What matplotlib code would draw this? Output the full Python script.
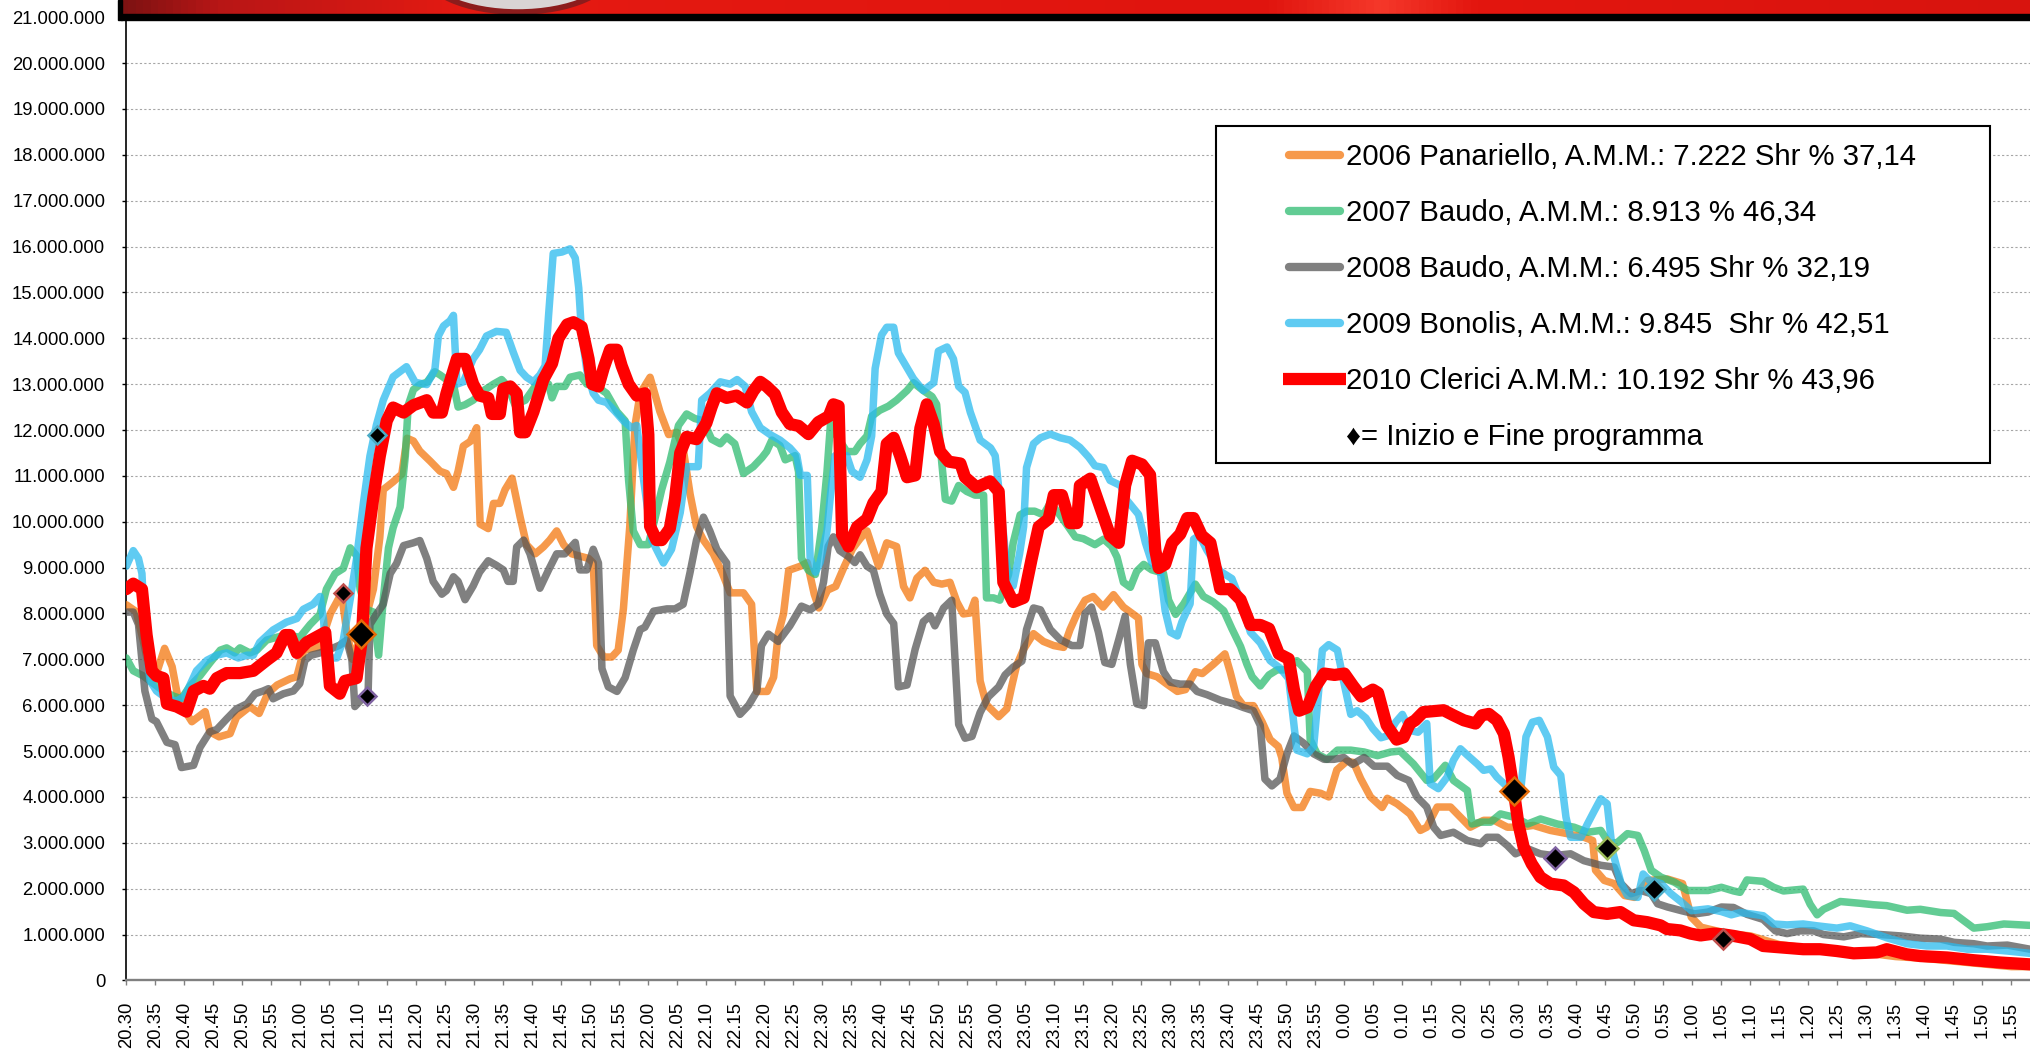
import matplotlib
matplotlib.use("Agg")
import matplotlib.pyplot as plt
import numpy as np
from matplotlib.patches import Rectangle, Ellipse
from matplotlib.colors import LinearSegmentedColormap
from matplotlib.ticker import FuncFormatter, MultipleLocator

plt.rcParams['font.family'] = ['Liberation Sans', 'DejaVu Sans']

# (minutes after 20:30, viewers in millions)
s2006 = [(0, 8.19), (1.7, 8.04), (2.9, 7.42), (4.0, 6.77), (5.2, 6.69), (6.6, 7.24), (7.9, 6.84),
         (9.0, 6.1), (11.3, 5.64), (13.6, 5.86), (14.4, 5.42), (16.0, 5.31), (17.9, 5.38), (19.0, 5.74),
         (21.3, 5.97), (22.9, 5.82), (24.4, 6.26), (26.0, 6.44), (28.3, 6.58), (29.4, 6.62), (30.6, 7.2),
         (32.1, 7.24), (33.3, 7.27), (35.2, 8.0), (37.1, 8.44), (38.0, 7.6), (39.0, 7.0), (40.4, 7.5),
         (41.5, 8.0), (42.6, 8.53), (43.7, 9.65), (44.3, 10.7), (46.0, 10.87), (47.5, 11.04), (48.4, 11.82),
         (49.5, 11.76), (50.6, 11.54), (52.4, 11.32), (54.1, 11.1), (55.2, 11.05), (56.4, 10.75), (57.2, 11.1),
         (58.1, 11.65), (59.3, 11.75), (60.4, 12.05), (61.0, 9.95), (62.4, 9.85), (63.3, 10.4), (64.4, 10.4),
         (65.3, 10.7), (66.5, 10.95), (67.9, 10.1), (69.0, 9.5), (70.5, 9.3), (71.9, 9.45), (73.0, 9.6),
         (74.2, 9.8), (75.4, 9.5), (76.8, 9.3), (78.2, 9.25), (79.7, 9.2), (80.5, 9.1), (81.1, 7.3),
         (82.3, 7.05), (83.7, 7.05), (84.8, 7.2), (85.7, 8.1), (86.8, 9.9), (87.7, 12.1), (88.6, 12.8),
         (90.3, 13.15), (92.0, 12.4), (93.5, 11.9), (94.9, 11.95), (96.0, 11.6), (97.2, 10.6), (98.3, 9.9),
         (99.5, 9.6), (101.2, 9.3), (102.7, 8.9), (104.1, 8.45), (106.4, 8.45), (107.8, 8.2), (108.7, 6.3),
         (110.5, 6.3), (111.6, 6.61), (112.4, 7.56), (113.3, 7.99), (114.2, 8.94), (116.2, 9.03), (117.4, 9.11),
         (118.6, 8.42), (119.4, 8.12), (120.9, 8.51), (122.3, 8.59), (123.8, 9.03), (125.2, 9.41), (126.5, 9.63),
         (127.7, 9.8), (128.8, 9.37), (129.7, 9.03), (131.1, 9.54), (132.8, 9.46), (134.0, 8.59), (135.1, 8.34),
         (136.3, 8.77), (137.7, 8.94), (139.2, 8.68), (140.6, 8.64), (142.0, 8.68), (143.2, 8.25), (144.3, 7.99),
         (145.5, 8.01), (146.3, 8.29), (147.2, 6.53), (148.3, 6.01), (150.4, 5.75), (151.8, 5.92), (152.7, 6.44),
         (153.5, 6.87), (154.7, 7.22), (156.4, 7.56), (158.1, 7.39), (159.9, 7.3), (161.6, 7.26), (162.7, 7.65),
         (163.9, 7.99), (165.3, 8.29), (166.7, 8.37), (168.4, 8.14), (170.2, 8.41), (171.9, 8.14), (174.5, 7.9),
         (175.1, 6.89), (175.9, 6.69), (177.7, 6.62), (179.4, 6.46), (181.2, 6.3), (182.6, 6.34), (184.3, 6.73),
         (185.5, 6.69), (187.4, 6.89), (189.4, 7.12), (190.3, 6.73), (191.4, 6.19), (192.6, 5.99), (194.3, 5.99),
         (195.8, 5.64), (197.2, 5.25), (198.6, 5.1), (199.2, 4.86), (200.1, 4.08), (201.3, 3.77), (202.7, 3.77),
         (204.1, 4.12), (205.9, 4.08), (207.3, 4.0), (208.7, 4.59), (210.4, 4.78), (211.6, 4.75), (212.8, 4.4),
         (214.5, 4.0), (216.5, 3.77), (217.4, 3.97), (219.1, 3.85), (221.3, 3.63), (223.1, 3.27), (224.2, 3.34),
         (226.0, 3.78), (228.3, 3.78), (230.0, 3.56), (231.7, 3.34), (234.0, 3.49), (235.8, 3.49), (238.1, 3.34),
         (240.4, 3.34), (242.6, 3.38), (245.5, 3.27), (248.4, 3.2), (251.3, 3.12), (252.8, 3.05), (253.3, 2.4),
         (254.8, 2.18), (256.5, 2.11), (258.3, 1.85), (260.0, 1.81), (262.3, 2.18), (265.7, 2.21), (268.3, 2.11),
         (269.8, 1.38), (271.5, 1.16), (273.8, 1.09), (276.7, 1.01), (280, 0.97), (285, 0.78), (290, 0.7),
         (295, 0.65), (300, 0.6), (305, 0.52), (310, 0.48), (315, 0.42), (320, 0.36), (325, 0.3), (328.2, 0.3)]

s2007 = [(0, 7.03), (1.2, 6.75), (2.9, 6.64), (4.7, 6.47), (6.4, 6.31), (8.1, 6.2), (9.5, 6.14), (11.0, 6.42),
         (12.7, 6.64), (14.4, 6.92), (16.2, 7.2), (17.3, 7.25), (18.7, 7.14), (19.6, 7.25), (21.3, 7.14),
         (22.5, 7.2), (24.2, 7.42), (25.9, 7.48), (27.6, 7.53), (29.9, 7.48), (31.7, 7.76), (33.4, 7.98),
         (34.5, 8.53), (36.0, 8.87), (37.4, 8.98), (38.6, 9.43), (39.7, 9.26), (40.3, 8.53), (41.4, 8.09),
         (42.6, 8.03), (43.5, 7.09), (44.3, 8.31), (45.2, 9.43), (46.0, 9.87), (47.2, 10.32), (48.1, 11.43),
         (48.6, 12.54), (49.5, 12.88), (50.6, 12.99), (51.8, 13.04), (53.2, 13.27), (54.1, 13.2), (55.2, 13.1),
         (56.4, 13.0), (57.2, 12.5), (58.4, 12.55), (59.8, 12.65), (61.5, 12.85), (63.3, 13.0), (64.7, 13.1),
         (65.8, 12.95), (67.0, 12.55), (68.8, 12.65), (70.2, 12.9), (71.3, 13.1), (72.8, 13.0), (73.4, 12.7),
         (74.2, 12.95), (75.6, 12.95), (76.5, 13.15), (78.2, 13.2), (79.4, 13.0), (81.1, 12.95), (82.8, 12.8),
         (84.6, 12.4), (86.0, 12.2), (86.6, 10.9), (87.4, 9.8), (88.6, 9.5), (90.0, 9.5), (91.2, 10.1),
         (92.3, 10.7), (93.7, 11.3), (95.2, 12.1), (96.6, 12.35), (98.0, 12.25), (99.5, 12.2), (100.9, 11.8),
         (102.4, 11.7), (103.5, 11.85), (104.9, 11.7), (106.4, 11.05), (108.1, 11.2), (109.6, 11.4),
         (110.4, 11.53), (111.3, 11.78), (112.7, 11.66), (113.6, 11.35), (115.3, 11.44), (115.9, 11.09),
         (116.4, 9.2), (117.6, 8.94), (118.8, 8.85), (119.9, 9.89), (120.8, 11.09), (121.4, 12.13), (122.5, 11.87),
         (124.2, 11.53), (125.6, 11.53), (126.5, 11.7), (127.7, 11.87), (128.5, 12.3), (129.9, 12.43),
         (131.4, 12.52), (132.8, 12.65), (134.6, 12.86), (135.7, 13.03), (137.4, 12.86), (138.9, 12.73),
         (139.7, 12.56), (140.6, 11.27), (141.2, 10.49), (142.3, 10.45), (143.5, 10.79), (144.9, 10.66),
         (146.3, 10.58), (147.8, 10.58), (148.3, 8.34), (149.5, 8.34), (150.6, 8.29), (152.1, 8.85), (152.9, 9.54),
         (154.1, 10.15), (155.2, 10.23), (156.6, 10.23), (158.1, 10.15), (159.3, 10.41), (160.7, 10.19),
         (162.4, 9.89), (163.6, 9.67), (165.0, 9.63), (167.0, 9.5), (168.5, 9.62), (169.9, 9.46), (170.8, 9.23),
         (171.9, 8.68), (173.1, 8.57), (174.2, 8.92), (175.4, 9.07), (176.8, 8.95), (178.8, 8.88), (179.7, 8.29),
         (180.9, 7.98), (182.3, 8.21), (184.3, 8.64), (185.7, 8.37), (187.4, 8.25), (189.2, 8.06), (190.6, 7.67),
         (192.1, 7.28), (193.2, 6.89), (194.1, 6.62), (195.5, 6.42), (197.0, 6.66), (198.4, 6.77), (200.1, 6.77),
         (201.8, 6.97), (203.6, 6.73), (204.1, 5.25), (205.3, 4.94), (207.0, 4.82), (208.8, 5.02), (211.1, 5.02),
         (213.4, 4.98), (215.7, 4.9), (218.0, 4.98), (219.6, 5.0), (221.9, 4.72), (224.2, 4.36), (225.4, 4.4),
         (227.4, 4.69), (228.8, 4.36), (231.2, 4.14), (232.0, 3.41), (233.5, 3.45), (235.2, 3.45), (236.9, 3.63),
         (239.2, 3.56), (241.6, 3.41), (243.8, 3.52), (246.7, 3.41), (249.6, 3.34), (251.9, 3.23), (254.2, 3.27),
         (255.7, 2.98), (257.1, 3.01), (258.8, 3.2), (260.6, 3.16), (261.7, 2.83), (262.9, 2.4), (264.6, 2.25),
         (266.9, 2.14), (269.2, 1.96), (272.7, 1.96), (275.0, 2.03), (277.1, 1.95), (278.2, 1.92), (279.4, 2.19),
         (282.2, 2.16), (284.0, 2.03), (285.7, 1.95), (289.1, 1.99), (290.3, 1.66), (291.5, 1.43), (292.6, 1.55),
         (295.5, 1.72), (299.0, 1.68), (301.2, 1.65), (303.5, 1.63), (307.0, 1.53), (309.3, 1.55), (312.8, 1.48),
         (315.1, 1.46), (316.8, 1.3), (318.5, 1.14), (320.8, 1.17), (323.7, 1.23), (328.2, 1.2)]

s2008 = [(0, 8.03), (1.2, 8.03), (2.1, 7.76), (3.2, 6.31), (4.4, 5.7), (5.2, 5.64), (7.0, 5.19), (8.4, 5.14),
         (9.5, 4.64), (11.6, 4.69), (12.7, 5.08), (14.4, 5.42), (15.6, 5.47), (17.3, 5.7), (19.0, 5.92),
         (20.8, 6.03), (22.2, 6.25), (23.6, 6.31), (24.5, 6.36), (25.3, 6.14), (27.1, 6.25), (28.8, 6.31),
         (29.9, 6.47), (30.8, 6.98), (31.9, 7.09), (33.4, 7.14), (35.7, 7.25), (36.8, 7.31), (38.0, 7.42),
         (38.9, 6.98), (39.4, 5.97), (40.3, 6.09), (41.7, 6.31), (42.0, 7.76), (43.1, 7.98), (44.3, 8.2),
         (45.5, 8.87), (46.6, 9.09), (47.8, 9.48), (49.5, 9.54), (50.6, 9.59), (51.8, 9.2), (52.9, 8.7),
         (54.4, 8.42), (55.2, 8.5), (56.4, 8.8), (57.2, 8.7), (58.4, 8.3), (59.8, 8.6), (60.9, 8.9), (62.4, 9.15),
         (63.8, 9.05), (65.0, 8.95), (65.8, 8.7), (66.7, 8.7), (67.3, 9.45), (68.5, 9.6), (69.6, 9.3), (71.3, 8.55),
         (72.8, 8.95), (74.2, 9.3), (75.6, 9.3), (77.4, 9.55), (78.2, 8.95), (79.4, 8.95), (80.5, 9.4), (81.4, 9.1),
         (82.0, 6.8), (83.1, 6.4), (84.6, 6.3), (86.0, 6.6), (87.4, 7.2), (88.6, 7.65), (89.4, 7.7), (90.9, 8.05),
         (93.2, 8.1), (94.6, 8.1), (96.0, 8.2), (97.2, 8.9), (98.3, 9.6), (99.5, 10.1), (100.6, 9.8), (101.8, 9.4),
         (103.5, 9.1), (104.1, 6.2), (105.8, 5.8), (107.3, 6.0), (108.7, 6.3), (109.5, 7.3), (110.7, 7.55),
         (112.4, 7.39), (114.4, 7.73), (116.4, 8.16), (117.9, 8.08), (119.3, 8.21), (120.2, 8.68), (121.0, 9.46),
         (121.9, 9.67), (123.0, 9.37), (124.5, 9.24), (125.6, 9.11), (126.5, 9.28), (127.7, 9.03), (128.8, 8.94),
         (129.9, 8.42), (131.1, 7.99), (132.3, 7.78), (133.1, 6.4), (134.6, 6.44), (136.0, 7.22), (137.4, 7.82),
         (138.6, 7.95), (139.4, 7.73), (140.9, 8.12), (142.3, 8.29), (143.5, 5.58), (144.6, 5.28), (145.8, 5.32),
         (147.2, 5.84), (148.6, 6.18), (150.4, 6.4), (151.5, 6.66), (152.9, 6.83), (154.4, 6.96), (155.2, 7.65),
         (156.4, 8.12), (157.6, 8.08), (159.3, 7.65), (161.0, 7.43), (163.0, 7.3), (164.4, 7.3), (165.3, 8.0),
         (166.4, 8.14), (167.6, 7.59), (168.7, 6.93), (169.9, 6.89), (171.1, 7.43), (172.2, 7.94), (173.1, 6.89),
         (174.2, 6.03), (175.4, 5.99), (176.2, 7.36), (177.4, 7.36), (178.8, 6.73), (180.0, 6.5), (181.7, 6.46),
         (183.4, 6.46), (184.6, 6.3), (186.3, 6.23), (188.6, 6.11), (190.9, 6.03), (192.6, 5.95), (194.3, 5.88),
         (195.5, 5.56), (196.3, 4.39), (197.5, 4.24), (198.9, 4.39), (200.1, 4.94), (201.3, 5.33), (203.0, 5.17),
         (204.7, 4.94), (206.5, 4.82), (208.2, 4.82), (209.9, 4.86), (211.4, 4.71), (213.4, 4.86), (215.1, 4.67),
         (217.4, 4.67), (219.1, 4.47), (221.1, 4.36), (222.5, 4.0), (224.2, 3.78), (225.4, 3.34), (226.6, 3.16),
         (228.8, 3.23), (231.2, 3.05), (233.5, 2.98), (234.6, 3.12), (236.4, 3.12), (238.1, 2.94), (239.5, 2.76),
         (241.6, 2.87), (243.8, 2.76), (246.1, 2.72), (249.0, 2.76), (251.3, 2.61), (254.2, 2.51), (256.5, 2.47),
         (257.7, 2.11), (259.4, 1.89), (261.1, 1.96), (262.9, 1.89), (264.0, 1.67), (265.7, 1.6), (268.1, 1.52),
         (270.4, 1.45), (272.7, 1.49), (275.0, 1.6), (277.1, 1.59), (279.4, 1.44), (282.2, 1.33), (284.3, 1.08),
         (286.3, 1.02), (288.6, 1.08), (290.9, 1.08), (292.6, 1.0), (296.1, 0.95), (299.0, 1.02), (302.4, 1.0),
         (305.9, 0.97), (309.3, 0.92), (312.8, 0.9), (315.1, 0.83), (318.5, 0.8), (320.8, 0.75), (324.3, 0.77),
         (328.2, 0.68)]

s2009 = [(0, 9.03), (1.2, 9.37), (2.1, 9.2), (2.7, 8.87), (3.2, 7.53), (4.1, 6.53), (5.2, 6.31), (7.0, 6.14),
         (8.7, 6.09), (10.1, 6.2), (12.1, 6.75), (13.9, 6.98), (15.6, 7.09), (17.3, 7.14), (19.3, 7.03),
         (20.8, 7.09), (21.9, 7.09), (23.0, 7.37), (25.3, 7.64), (27.6, 7.81), (29.4, 7.89), (30.5, 8.09),
         (32.2, 8.2), (33.4, 8.37), (34.0, 7.87), (34.5, 7.03), (36.3, 7.03), (37.4, 7.42), (38.6, 8.31),
         (39.7, 9.2), (40.9, 10.43), (42.0, 11.43), (43.1, 12.1), (44.3, 12.65), (46.0, 13.16), (48.3, 13.38),
         (49.8, 13.04), (51.8, 12.99), (53.2, 13.32), (53.8, 14.05), (54.7, 14.27), (55.8, 14.38), (56.4, 14.5),
         (57.0, 13.0), (58.1, 13.05), (59.8, 13.55), (60.9, 13.75), (62.1, 14.05), (63.8, 14.15), (65.5, 14.13),
         (66.7, 13.7), (67.9, 13.3), (69.0, 13.15), (70.2, 13.05), (71.3, 13.2), (72.2, 13.4), (72.8, 14.5),
         (73.6, 15.85), (75.1, 15.88), (76.5, 15.95), (77.4, 15.75), (78.0, 15.1), (78.5, 14.1), (79.4, 13.3),
         (80.5, 12.8), (81.4, 12.65), (82.8, 12.6), (84.3, 12.4), (85.7, 12.2), (87.1, 12.05), (88.0, 12.1),
         (89.2, 10.9), (90.6, 9.6), (92.6, 9.1), (94.0, 9.4), (95.5, 10.2), (96.6, 11.2), (98.6, 11.2),
         (99.2, 12.65), (100.6, 12.8), (102.4, 13.05), (104.1, 13.0), (105.3, 13.1), (106.7, 12.95), (107.8, 12.4),
         (109.3, 12.05), (111.0, 11.9), (112.7, 11.78), (114.4, 11.61), (115.6, 11.44), (116.2, 11.01),
         (117.4, 11.01), (117.9, 9.2), (118.8, 8.9), (119.6, 9.11), (120.8, 9.8), (121.4, 10.58), (122.2, 11.44),
         (124.2, 11.44), (125.1, 11.1), (126.5, 10.97), (127.7, 11.35), (128.5, 11.87), (129.1, 13.34),
         (130.2, 14.07), (131.1, 14.24), (132.3, 14.24), (133.1, 13.68), (134.3, 13.42), (135.7, 13.12),
         (137.4, 12.86), (139.2, 13.03), (140.0, 13.72), (141.5, 13.81), (142.6, 13.55), (143.5, 12.95),
         (144.6, 12.82), (145.5, 12.39), (147.2, 11.78), (149.0, 11.61), (149.8, 11.44), (150.7, 10.41),
         (151.8, 9.0), (152.9, 8.6), (154.0, 9.3), (154.7, 9.89), (155.2, 11.18), (156.4, 11.7), (157.6, 11.83),
         (159.3, 11.91), (161.0, 11.83), (162.7, 11.78), (164.4, 11.62), (165.9, 11.41), (167.0, 11.22),
         (168.5, 11.18), (169.6, 10.9), (171.4, 10.79), (172.5, 10.47), (174.5, 10.16), (175.7, 9.54),
         (176.8, 9.11), (178.3, 8.88), (179.1, 8.06), (180.0, 7.59), (181.2, 7.51), (182.0, 7.82), (183.4, 8.21),
         (184.0, 9.62), (185.0, 9.7), (186.3, 9.38), (188.6, 8.92), (190.6, 8.76), (192.1, 8.29), (193.8, 7.59),
         (195.5, 7.36), (197.2, 6.97), (198.9, 6.81), (200.4, 6.58), (201.8, 5.02), (203.6, 4.94), (204.7, 5.1),
         (206.2, 7.2), (207.3, 7.32), (208.8, 7.2), (209.9, 6.5), (211.1, 5.8), (212.2, 5.88), (213.7, 5.72),
         (214.9, 5.49), (216.3, 5.29), (217.4, 5.33), (218.9, 5.64), (220.0, 5.8), (221.3, 5.45), (222.7, 5.41),
         (224.2, 5.6), (224.8, 4.29), (226.2, 4.18), (227.7, 4.43), (228.8, 4.8), (230.0, 5.05), (231.2, 4.91),
         (232.9, 4.72), (234.0, 4.58), (235.2, 4.61), (236.3, 4.43), (237.5, 4.29), (239.0, 4.1), (240.4, 4.14),
         (241.3, 5.31), (242.4, 5.63), (243.6, 5.67), (245.0, 5.31), (246.1, 4.65), (247.3, 4.47), (248.2, 3.56),
         (249.0, 3.12), (250.8, 3.12), (251.9, 3.41), (253.1, 3.7), (254.2, 3.96), (255.3, 3.85), (256.2, 2.83),
         (257.7, 2.11), (258.8, 1.85), (260.6, 1.81), (261.5, 2.32), (262.6, 2.18), (264.6, 2.11), (266.3, 1.89),
         (268.1, 1.71), (269.8, 1.52), (272.7, 1.56), (275.0, 1.5), (276.7, 1.43), (278.2, 1.48), (280.6, 1.44),
         (282.2, 1.41), (284.0, 1.23), (286.3, 1.21), (289.1, 1.23), (291.5, 1.19), (294.9, 1.14), (297.2, 1.19),
         (300.1, 1.08), (303.5, 0.93), (307.0, 0.8), (310.4, 0.75), (313.9, 0.75), (317.4, 0.68), (320.8, 0.68),
         (324.3, 0.64), (328.2, 0.59)]

s2010 = [(0, 8.53), (1.2, 8.65), (2.7, 8.53), (3.5, 7.53), (4.4, 6.75), (5.2, 6.64), (6.4, 6.59), (7.0, 6.03),
         (8.7, 5.97), (10.4, 5.86), (11.6, 6.31), (13.3, 6.42), (14.4, 6.36), (15.6, 6.59), (17.3, 6.7),
         (19.6, 6.7), (21.9, 6.75), (24.2, 6.98), (25.9, 7.14), (27.4, 7.53), (28.2, 7.53), (29.4, 7.14),
         (31.1, 7.37), (33.4, 7.53), (34.3, 7.59), (35.1, 6.42), (36.8, 6.25), (37.7, 6.53), (39.7, 6.59),
         (40.6, 7.42), (41.4, 9.42), (42.6, 10.54), (43.7, 11.43), (44.9, 12.2), (46.0, 12.49), (47.8, 12.38),
         (49.5, 12.54), (51.8, 12.65), (52.9, 12.38), (54.4, 12.38), (55.2, 12.8), (57.0, 13.55), (58.4, 13.55),
         (59.8, 13.0), (60.9, 12.75), (62.4, 12.7), (63.0, 12.35), (64.4, 12.35), (65.0, 12.9), (66.2, 12.95),
         (67.3, 12.8), (67.9, 11.95), (68.8, 11.95), (70.2, 12.4), (71.9, 13.1), (73.4, 13.45), (74.5, 14.0),
         (76.0, 14.3), (77.1, 14.35), (78.5, 14.25), (79.7, 13.55), (80.3, 13.0), (81.4, 12.95), (82.3, 13.35),
         (83.4, 13.75), (84.6, 13.75), (85.4, 13.4), (86.6, 13.0), (88.0, 12.75), (89.4, 12.8), (90.0, 11.9),
         (90.3, 9.9), (91.4, 9.6), (92.3, 9.6), (93.7, 9.85), (94.6, 10.5), (95.5, 11.5), (96.6, 11.85),
         (98.3, 11.8), (100.0, 12.15), (100.9, 12.5), (101.8, 12.8), (103.5, 12.7), (105.2, 12.75), (107.0, 12.6),
         (108.1, 12.85), (109.3, 13.05), (110.4, 12.95), (111.8, 12.78), (113.0, 12.39), (114.4, 12.13),
         (115.9, 12.09), (117.6, 11.91), (119.3, 12.17), (121.1, 12.3), (121.9, 12.56), (122.8, 12.52),
         (123.4, 9.72), (124.5, 9.46), (126.0, 9.89), (127.7, 10.06), (128.8, 10.41), (130.2, 10.66),
         (131.1, 11.7), (132.3, 11.83), (133.4, 11.44), (134.6, 10.97), (136.0, 11.01), (136.9, 12.04),
         (138.0, 12.56), (139.2, 12.13), (140.3, 11.53), (141.8, 11.31), (143.8, 11.27), (144.6, 10.97),
         (146.6, 10.75), (148.9, 10.88), (150.4, 10.66), (151.2, 8.68), (152.9, 8.25), (154.7, 8.34), (156.1, 9.2),
         (157.3, 9.89), (159.0, 10.06), (159.9, 10.58), (161.3, 10.58), (162.7, 9.97), (163.9, 9.97),
         (164.4, 10.79), (166.2, 10.94), (167.9, 10.32), (169.6, 9.7), (171.1, 9.54), (172.2, 10.79),
         (173.4, 11.33), (175.1, 11.25), (176.5, 11.02), (177.4, 9.38), (178.0, 8.99), (179.1, 9.07), (180.3, 9.54),
         (181.7, 9.73), (182.9, 10.08), (184.0, 10.08), (185.4, 9.7), (186.9, 9.54), (188.6, 8.53), (190.3, 8.53),
         (192.1, 8.3), (193.8, 7.75), (195.5, 7.75), (197.0, 7.67), (198.7, 7.12), (200.4, 7.01), (201.3, 6.34),
         (202.2, 5.88), (203.6, 5.95), (205.1, 6.42), (206.5, 6.69), (208.3, 6.66), (210.0, 6.69), (211.5, 6.42),
         (212.9, 6.19), (214.9, 6.34), (215.8, 6.27), (217.3, 5.56), (219.0, 5.25), (220.2, 5.3), (221.3, 5.6),
         (222.2, 5.67), (223.6, 5.85), (225.4, 5.87), (227.1, 5.89), (228.8, 5.78), (230.6, 5.67), (232.6, 5.6),
         (233.7, 5.78), (234.9, 5.81), (236.3, 5.67), (237.5, 5.38), (238.3, 4.87), (239.2, 4.14), (240.0, 3.41),
         (240.9, 2.91), (242.3, 2.54), (243.8, 2.25), (245.5, 2.11), (247.8, 2.07), (249.6, 1.92), (251.3, 1.67),
         (253.0, 1.49), (255.3, 1.45), (257.6, 1.49), (259.9, 1.31), (262.2, 1.27), (264.5, 1.2), (265.6, 1.12),
         (267.9, 1.09), (269.7, 1.02), (271.4, 0.98), (273.7, 1.02), (275.5, 1.0), (277.1, 0.97), (280.0, 0.9),
         (282.2, 0.75), (285.1, 0.72), (289.1, 0.68), (292.0, 0.68), (294.9, 0.64), (297.8, 0.59), (301.8, 0.61),
         (303.5, 0.68), (306.9, 0.57), (309.3, 0.53), (313.9, 0.5), (318.5, 0.44), (323.1, 0.39), (328.2, 0.35)]

labels = ["2006 Panariello, A.M.M.: 7.222 Shr % 37,14",
          "2007 Baudo, A.M.M.: 8.913 % 46,34",
          "2008 Baudo, A.M.M.: 6.495 Shr % 32,19",
          "2009 Bonolis, A.M.M.: 9.845  Shr % 42,51",
          "2010 Clerici A.M.M.: 10.192 Shr % 43,96"]
marker_note = "\u2666= Inizio e Fine programma"

# start / end of programme markers (minutes after 20:30, millions)
mark_t = [37.3, 40.4, 41.5, 43.3, 239.2, 246.3, 255.3, 263.3, 275.2]
mark_v = [8.45, 7.55, 6.2, 11.9, 4.13, 2.67, 2.88, 2.0, 0.91]

tick_minutes = list(range(0, 326, 5))
tick_labels = ["%d.%02d" % (((20 * 60 + 30 + m) // 60) % 24, (20 * 60 + 30 + m) % 60) for m in tick_minutes]

# styles
colors = ['#F4770E', '#2EBB70', '#565656', '#2ABAEE', '#FF0000']
widths = [5.4, 5.4, 5.4, 5.4, 8.8]
alphas = [0.75, 0.75, 0.75, 0.75, 1.0]
mark_edge = ['#C0504D', '#E46C0A', '#8064A2', '#4BACC6', '#E46C0A', '#8064A2', '#9BBB59', '#4BACC6', '#C0504D']
mark_size = [9.5, 14, 9.5, 9.5, 14, 11, 11, 11, 10]

W, H = 2030, 1049
fig = plt.figure(figsize=(W / 100, H / 100), dpi=100)
ax = fig.add_axes([126.3 / W, 1 - 980.4 / H, 1 - 126.3 / W, (980.4 - 17.2) / H])

for data, c, lw, a in zip([s2006, s2007, s2008, s2009, s2010], colors, widths, alphas):
    t, v = zip(*data)
    ax.plot(t, v, color=c, lw=lw, alpha=a, solid_joinstyle='round', solid_capstyle='round', zorder=3)

for t, v, ec, ms in zip(mark_t, mark_v, mark_edge, mark_size):
    ax.plot([t], [v], ls='none', marker='D', ms=ms, mfc='black', mec=ec, mew=1.8, zorder=6)

ax.set_xlim(0, 328.2)
ax.set_ylim(0, 21)
ax.yaxis.set_major_locator(MultipleLocator(1))
ax.yaxis.set_major_formatter(FuncFormatter(lambda y, p: f"{int(round(y * 1e6)):,}".replace(',', '.')))
ax.set_xticks(tick_minutes)
ax.set_xticklabels(tick_labels, rotation=90)
ax.grid(axis='y', color='#A6A6A6', lw=0.8, ls=(0, (2, 2)))
ax.set_axisbelow(True)
ax.tick_params(axis='x', length=3.6, width=1.0, color='#808080', pad=12, labelsize=13.3)
ax.tick_params(axis='y', length=3.2, width=1.0, color='black', pad=12, labelsize=13.3)
for s in ['top', 'right']:
    ax.spines[s].set_visible(False)
ax.spines['left'].set_color('black')
ax.spines['left'].set_linewidth(1.2)
ax.spines['bottom'].set_color('#808080')
ax.spines['bottom'].set_linewidth(1.7)

# overlay in pixel coordinates for the banner and the legend box
ov = fig.add_axes([0, 0, 1, 1], zorder=5)
ov.set_xlim(0, W)
ov.set_ylim(H, 0)
ov.axis('off')

banner = LinearSegmentedColormap.from_list('banner', [(0, '#7d1212'), (0.05, '#b81616'), (0.18, '#e51a12'),
                                                      (0.6, '#e0140e'), (0.66, '#f5382a'), (0.71, '#e3160f'),
                                                      (1, '#d8140e')])
ov.imshow(np.linspace(0, 1, 512)[None, :], extent=(121, W, 14, 0), aspect='auto', cmap=banner, zorder=1)
ov.add_patch(Ellipse((518, -30), 190, 84, fc='#d9d4d4', ec='#8c1c1c', lw=4, zorder=2))
ov.add_patch(Rectangle((121, 13.5), W - 121, 6, color='black', zorder=3))
ov.add_patch(Rectangle((118.5, 0), 3.5, 19.5, color='black', zorder=3))

ov.add_patch(Rectangle((1216, 126), 774, 337, fc='white', ec='black', lw=1.5, zorder=6))
for i, (lab, c, lw, a) in enumerate(zip(labels, colors, widths, alphas)):
    yb = 165 + 56 * i
    if i < 4:
        ov.plot([1289, 1340], [yb - 10, yb - 10], color=c, lw=6, alpha=a, solid_capstyle='round', zorder=7)
    else:
        ov.plot([1283, 1346], [yb - 10, yb - 10], color=c, lw=lw, solid_capstyle='butt', zorder=7)
    ov.text(1346, yb, lab, fontsize=21.2, va='baseline', ha='left', zorder=8)
ov.text(1346, 165 + 56 * 5, marker_note, fontsize=21.2, va='baseline', ha='left', zorder=8)

fig.savefig('out.png', dpi=100)
